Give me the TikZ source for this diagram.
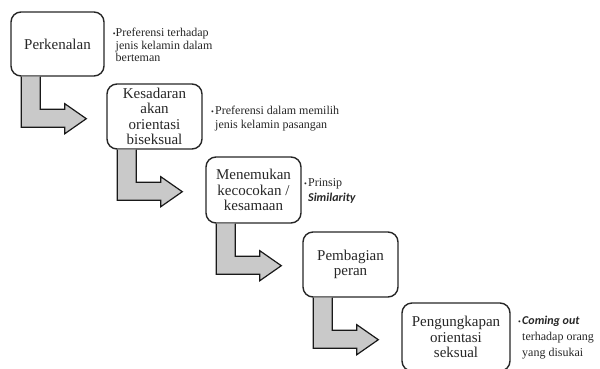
\documentclass[tikz,border=0pt]{standalone}
\usepackage{fontspec}
\setmainfont{Liberation Serif}
\newfontfamily\notesans{Carlito}
\definecolor{inkdark}{HTML}{262626}
\definecolor{arrowfill}{HTML}{C9C9C9}

% L-shaped block arrow hanging under a stage box
\newcommand\stagearrow[1]{%
  \begin{scope}[shift={(#1.south west)}]
    \fill[arrowfill] (11,0) -- (30,0) -- (30,32.5) -- (54.5,32.5) -- (54.5,27)
      -- (76,42) -- (54.5,57) -- (54.5,50.5) -- (11,50.5) -- cycle;
    \draw[blockedge] (30,0) -- (30,32.5) -- (54.5,32.5) -- (54.5,27)
      -- (76,42) -- (54.5,57) -- (54.5,50.5) -- (11,50.5) -- (11,0);
  \end{scope}}

\begin{document}
\begin{tikzpicture}[x=1pt,y=-1pt,
  stage/.style={draw=inkdark, line width=1.4pt, rounded corners=10pt,
    align=center, inner sep=0pt, text=inkdark,
    font=\fontsize{15}{15.5}\selectfont},
  note/.style={anchor=base west, align=left, inner sep=0pt, text=inkdark},
  blockedge/.style={draw=black!90, line width=1.2pt, line join=miter}]
\useasboundingbox (0,0) rectangle (600,368);

% stage boxes
\node[stage, minimum width=93pt, minimum height=64pt] (b1) at (57.5,44) {Perkenalan};
\node[stage, minimum width=95pt, minimum height=65pt] (b2) at (154.5,116.5)
  {Kesadaran\\akan\\orientasi\\biseksual};
\node[stage, minimum width=95pt, minimum height=66pt] (b3) at (253.5,190)
  {Menemukan\\kecocokan /\\kesamaan};
\node[stage, minimum width=95pt, minimum height=65pt] (b4) at (350.5,264.5)
  {Pembagian\\peran};
\node[stage, minimum width=108pt, minimum height=68pt] (b5) at (456,337)
  {Pengungkapan\\orientasi\\seksual};

% arrows between stages
\stagearrow{b1}
\stagearrow{b2}
\stagearrow{b3}
\stagearrow{b4}

% side notes (placed by the baseline of their last line)
\node[note, font=\fontsize{12}{12.5}\selectfont] (n1) at (115.5,61.5)
  {\llap{\fontsize{8}{8}\selectfont•}Preferensi terhadap\\jenis kelamin dalam\\berteman};
\node[note, font=\fontsize{12}{14.7}\selectfont] (n2) at (215,128.7)
  {\llap{\fontsize{8}{8}\selectfont•\,}Preferensi dalam memilih\\jenis kelamin pasangan};
\node[note, font=\fontsize{12}{15}\selectfont] (n3) at (308,201)
  {\llap{\fontsize{8}{8}\selectfont•\,}Prinsip\\{\notesans\bfseries\itshape Similarity}};
\node[note, font=\fontsize{12}{16}\selectfont] (n4) at (522,356)
  {\llap{\fontsize{8}{8}\selectfont•\,}{\notesans\bfseries\itshape Coming out}\\terhadap orang\\yang disukai};
\end{tikzpicture}
\end{document}
